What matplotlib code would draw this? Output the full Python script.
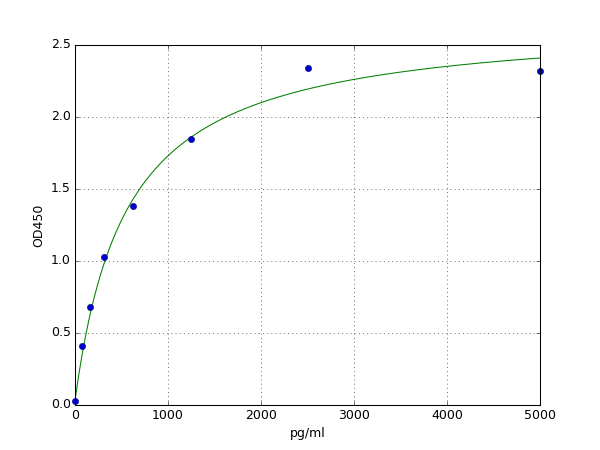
import matplotlib
matplotlib.use('Agg')
import matplotlib.pyplot as plt
import numpy as np

plt.style.use('classic')

# standards (pg/ml) and measured OD450
conc = [0, 78, 156, 312, 625, 1250, 2500, 5000]
od = [0.03, 0.41, 0.68, 1.03, 1.38, 1.85, 2.34, 2.32]

# fitted curve parameters
fit_base = 0.03
fit_vmax = 2.644
fit_k = 555.0

xs = np.linspace(0, 5000, 500)
ys = fit_base + fit_vmax * xs / (fit_k + xs)

fig = plt.figure(figsize=(8, 6), dpi=75)
ax = fig.add_subplot(111)
ax.plot(xs, ys, color='g', linewidth=1.0)
ax.plot(conc, od, 'o', color='#0000cc', markeredgecolor='#000080', markersize=6, clip_on=False)

ax.set_xlim(0, 5000)
ax.set_ylim(0, 2.5)
ax.set_xticks([0, 1000, 2000, 3000, 4000, 5000])
ax.set_yticks([0.0, 0.5, 1.0, 1.5, 2.0, 2.5])
ax.set_xlabel('pg/ml')
ax.set_ylabel('OD450')
ax.grid(True, linestyle=':', color='k', linewidth=0.5)

fig.savefig('out.png', dpi=75)
